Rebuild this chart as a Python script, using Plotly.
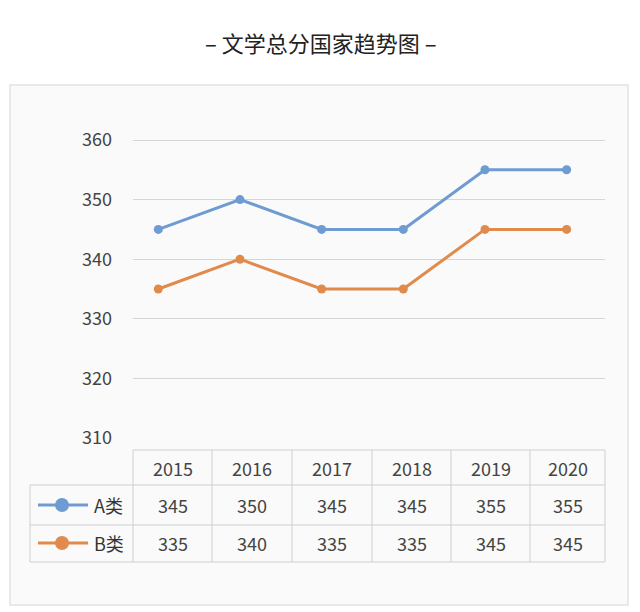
import plotly.graph_objects as go

years = ["2015", "2016", "2017", "2018", "2019", "2020"]
series_a = [345, 350, 345, 345, 355, 355]
series_b = [335, 340, 335, 335, 345, 345]
names = ["A类", "B类"]
colors = ["#6e9bd1", "#e08b4c"]
yticks = [310, 320, 330, 340, 350, 360]

OFF = 8  # page body margin
W, H = 640 - OFF, 612 - OFF
L, R, T, B = 133 - OFF, 605 - OFF, 110 - OFF, 438 - OFF
def px(x): return (x - OFF - L) / (R - L)
def py(y): return (B - (y - OFF)) / (B - T)

fig = go.Figure()
for name, vals, c in zip(names, [series_a, series_b], colors):
    fig.add_trace(go.Scatter(x=list(range(len(years))), y=vals, mode="lines+markers",
                             line=dict(color=c, width=3), marker=dict(size=9, color=c),
                             name=name, showlegend=False))

def A(text, x, y, size=18, color="#444", xanchor="center"):
    return dict(text=text, xref="paper", yref="paper", x=px(x), y=py(y), showarrow=False,
                xanchor=xanchor, yanchor="middle", font=dict(size=size, color=color))

shapes = [dict(type="rect", xref="paper", yref="paper", x0=px(10), x1=px(628), y0=py(85), y1=py(605),
               fillcolor="#fafafa", line=dict(color="#e2e2e2", width=1.5), layer="below")]
ann = [A("– 文学总分国家趋势图 –", 320, 42, size=22, color="#222")]
line_c = "#cfcfcf"
for yy, x0 in [(450, 133), (485, 30), (525, 30), (562, 30)]:
    shapes.append(dict(type="line", xref="paper", yref="paper", x0=px(x0), x1=px(605), y0=py(yy), y1=py(yy), line=dict(color=line_c, width=1)))
bounds = [133, 212, 292, 372, 451, 530, 605]
for xb in bounds:
    shapes.append(dict(type="line", xref="paper", yref="paper", x0=px(xb), x1=px(xb), y0=py(450), y1=py(562), line=dict(color=line_c, width=1)))
shapes.append(dict(type="line", xref="paper", yref="paper", x0=px(30), x1=px(30), y0=py(485), y1=py(562), line=dict(color=line_c, width=1)))
centers = [(bounds[i] + bounds[i + 1]) / 2 for i in range(6)]
for i, yr in enumerate(years):
    ann.append(A(yr, centers[i], 468))
for r, (name, vals, c) in enumerate(zip(names, [series_a, series_b], colors)):
    yc = 505 + r * 38
    for i, v in enumerate(vals):
        ann.append(A(str(v), centers[i], yc))
    shapes.append(dict(type="line", xref="paper", yref="paper", x0=px(38), x1=px(88), y0=py(yc), y1=py(yc), line=dict(color=c, width=3)))
    shapes.append(dict(type="circle", xref="paper", yref="paper", x0=px(56), x1=px(68), y0=py(yc + 6), y1=py(yc - 6), fillcolor=c, line=dict(color=c)))
    ann.append(A(name, 92, yc, color="#333", xanchor="left"))

r0, r1 = -0.31, 5.47
fig.update_layout(
    width=W, height=H, margin=dict(l=L, r=W - R, t=T, b=H - B),
    paper_bgcolor="white", plot_bgcolor="rgba(0,0,0,0)",
    font=dict(family="Noto Sans CJK SC"),
    shapes=shapes, annotations=ann,
    xaxis=dict(range=[r0, r1], showticklabels=False, showgrid=False, zeroline=False),
    yaxis=dict(range=[310, 360 + 30 * 50 / 298], tickvals=yticks, gridcolor="#d6d6d6",
               zeroline=False, ticklabelstandoff=20, tickfont=dict(size=18, color="#444")),
)
fig.write_html("out.html")
